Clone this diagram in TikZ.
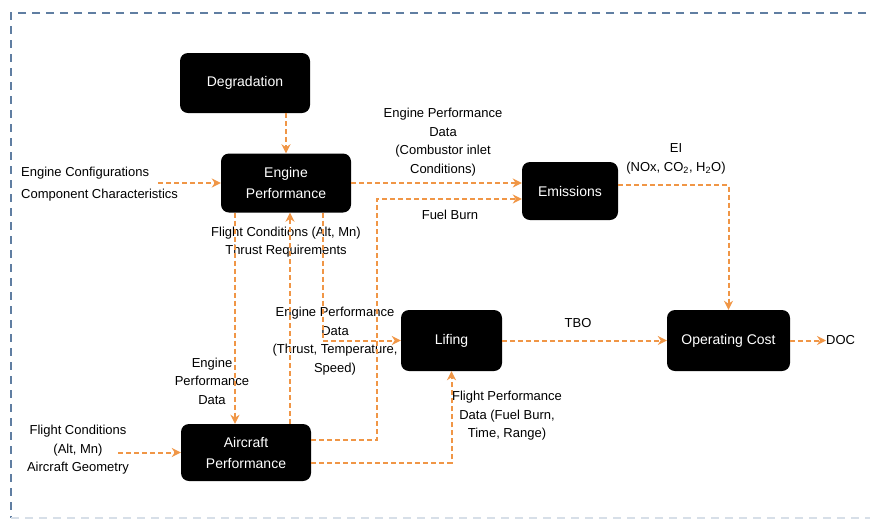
\documentclass[tikz,border=0pt]{standalone}
\usepackage{fontspec}
\usetikzlibrary{arrows.meta}
\setmainfont{Liberation Sans}
\definecolor{flowc}{RGB}{240,150,70}
\definecolor{framec}{RGB}{96,126,162}
\begin{document}
\begin{tikzpicture}[x=1pt,y=-1pt, >={Stealth[length=9pt,width=9pt]}]
  \tikzset{box/.style={fill=black, text=white, rounded corners=8pt, align=center,
      inner sep=0pt, font=\fontsize{14}{21}\selectfont},
    flow/.style={->, draw=flowc, line width=2pt, dash pattern=on 5pt off 3pt},
    lbl/.style={align=center, inner sep=0pt, font=\fontsize{13}{18.5}\selectfont}}
  \useasboundingbox (0,0) rectangle (870,523);
  \draw[framec, line width=1.3pt, dash pattern=on 8pt off 6pt]
    (880,13) -- (11,13) -- (11,518);
  \draw[framec!25, line width=1.3pt, dash pattern=on 8pt off 6pt] (11,518) -- (880,518);
  % blocks
  \node[box, minimum width=130pt, minimum height=60pt] (deg) at (245,83) {Degradation};
  \node[box, minimum width=130pt, minimum height=59pt] (ep) at (286,183) {Engine\\Performance};
  \node[box, minimum width=96pt, minimum height=58pt] (em) at (570,191) {Emissions};
  \node[box, minimum width=101pt, minimum height=61pt] (lif) at (451.5,340.5) {Lifing};
  \node[box, minimum width=123pt, minimum height=61pt] (oc) at (728.5,340.5) {Operating Cost};
  \node[box, minimum width=130pt, minimum height=57pt] (ap) at (246,452.5) {Aircraft\\Performance};
  % inputs and outputs
  \node[lbl, anchor=west] (ecfg) at (21,173) {Engine Configurations};
  \node[lbl, anchor=west] (ccc) at (21,195) {Component Characteristics};
  \coordinate (ein) at (158,183);
  \node[lbl] (fcin) at (78,450) {Flight Conditions\\(Alt, Mn)\\Aircraft Geometry};
  \coordinate (ain) at (118,452.5);
  \node[lbl, anchor=west] (doc) at (826,340.5) {DOC};
  % labels
  \node[lbl] (lcomb) at (443,142) {Engine Performance\\Data\\(Combustor inlet\\Conditions)};
  \node[lbl] (lfuel) at (450,215) {Fuel Burn};
  \node[lbl] (lei) at (676,159) {EI\\(NOx, CO\textsubscript{2}, H\textsubscript{2}O)};
  \node[lbl] (lfc) at (286,242) {Flight Conditions (Alt, Mn)\\Thrust Requirements};
  \node[lbl] (lepd) at (212,381) {Engine\\Performance\\Data};
  \node[lbl] (lthr) at (335,341) {Engine Performance\\Data\\(Thrust, Temperature,\\Speed)};
  \node[lbl] (ltbo) at (578,323) {TBO};
  \node[lbl] (lfp) at (507,416) {Flight Performance\\Data (Fuel Burn,\\Time, Range)};
  % connectors
  \draw[flow] (deg.south -| ep.north) -- (ep.north);
  \draw[flow] (ein) -- (ep.west);
  \draw[flow] (ain) -- (ap.west);
  \draw[flow] (ep.east) -- ([yshift=8pt]em.west);
  \draw[flow] ([yshift=12.5pt]ap.east) -| (377,199) -- ([yshift=-8pt]em.west);
  \draw[flow] ([yshift=6pt]em.east) -| (oc.north);
  \draw[flow] (lif) -- (oc);
  \draw[flow] (oc.east) -- (doc.west);
  \draw[flow] (ep.south -| 235,0) -- (ap.north -| 235,0);
  \draw[flow] (ap.north -| 290,0) -- (ep.south -| 290,0);
  \draw[flow] (ep.south -| 323,0) |- (lif.west);
  \draw[flow] ([yshift=-10.5pt]ap.east) -| (lif.south);
\end{tikzpicture}
\end{document}
